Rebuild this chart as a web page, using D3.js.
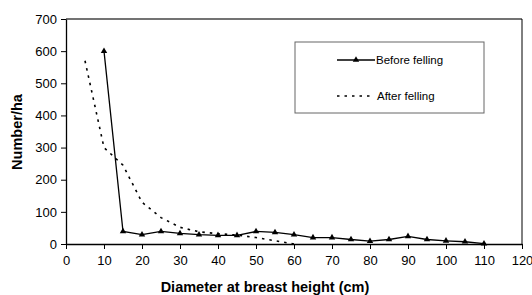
<!DOCTYPE html>
<html>
<head>
<meta charset="utf-8">
<script src="https://cdn.jsdelivr.net/npm/d3@7"></script>
<style>
  html, body { margin: 0; padding: 0; background: #fff; }
  svg { display: block; font-family: "Liberation Sans", Arial, sans-serif; }
</style>
</head>
<body>
<div id="chart"></div>
<script>
// Diameter classes (cm) and stems per hectare
const beforeDiam = [10, 15, 20, 25, 30, 35, 40, 45, 50, 55, 60, 65, 70, 75, 80, 85, 90, 95, 100, 105, 110];
const beforeVals = [600, 39, 29, 39, 33, 29, 27, 27, 39, 36, 29, 20, 20, 14, 9, 14, 24, 14, 10, 7, 1];

const afterDiam = [5, 10, 15, 20, 25, 30, 35, 40, 45, 50, 55, 60];
const afterVals = [570, 300, 245, 130, 82, 52, 38, 32, 28, 20, 10, 0];

const xTicks = [0, 10, 20, 30, 40, 50, 60, 70, 80, 90, 100, 110, 120];
const yTicks = [0, 100, 200, 300, 400, 500, 600, 700];

const W = 532, H = 295;
const m = { left: 66, right: 10, top: 19, bottom: 51 };

const svg = d3.select('#chart').append('svg')
  .attr('width', W).attr('height', H);

const x = d3.scaleLinear().domain([0, 120]).range([m.left, 522]);
const y = d3.scaleLinear().domain([0, 700]).range([244, m.top]);

// plot frame (top + right)
svg.append('line')
  .attr('x1', x(0)).attr('x2', x(120)).attr('y1', y(700)).attr('y2', y(700))
  .attr('stroke', '#444').attr('stroke-width', 1.5);
svg.append('line')
  .attr('x1', x(120)).attr('x2', x(120)).attr('y1', y(700)).attr('y2', y(0))
  .attr('stroke', '#000').attr('stroke-width', 1);

// axes
const xAxis = svg.append('g')
  .attr('transform', `translate(0,${y(0)})`)
  .call(d3.axisBottom(x).tickValues(xTicks).tickSize(5).tickPadding(7).tickSizeOuter(0));
const yAxis = svg.append('g')
  .attr('transform', `translate(${x(0)},0)`)
  .call(d3.axisLeft(y).tickValues(yTicks).tickSize(5).tickPadding(4).tickSizeOuter(0));

[xAxis, yAxis].forEach(a => {
  a.select('.domain').attr('stroke', '#000').attr('stroke-width', 1.3);
  a.selectAll('.tick line').attr('stroke', '#000');
  a.selectAll('.tick text')
    .attr('fill', '#000')
    .style('font-size', '13px')
    .style('font-family', '"Liberation Sans", Arial, sans-serif');
});

// after felling (dotted)
const line = d3.line().x(d => x(d[0])).y(d => y(d[1]));
svg.append('path')
  .datum(afterDiam.map((d, i) => [d, afterVals[i]]))
  .attr('d', line)
  .attr('fill', 'none')
  .attr('stroke', '#000')
  .attr('stroke-width', 1.6)
  .attr('stroke-dasharray', '2.5,5');

// before felling (solid with triangles)
const beforePts = beforeDiam.map((d, i) => [d, beforeVals[i]]);
svg.append('path')
  .datum(beforePts)
  .attr('d', line)
  .attr('fill', 'none')
  .attr('stroke', '#000')
  .attr('stroke-width', 1.3);

const tri = d3.symbol().type(d3.symbolTriangle).size(18);
svg.selectAll('.mk').data(beforePts).enter().append('path')
  .attr('class', 'mk')
  .attr('d', tri)
  .attr('transform', d => `translate(${x(d[0])},${y(d[1])})`)
  .attr('fill', '#000');

// legend
const lg = svg.append('g');
lg.append('rect')
  .attr('x', 295).attr('y', 42).attr('width', 189).attr('height', 71)
  .attr('fill', '#fff').attr('stroke', '#666').attr('stroke-width', 1);
lg.append('line')
  .attr('x1', 337).attr('x2', 375).attr('y1', 60).attr('y2', 60)
  .attr('stroke', '#000').attr('stroke-width', 1.3);
lg.append('path')
  .attr('d', tri)
  .attr('transform', 'translate(356,60)')
  .attr('fill', '#000');
lg.append('text')
  .attr('x', 376).attr('y', 64)
  .style('font-size', '11.5px')
  .text('Before felling');
lg.append('line')
  .attr('x1', 337).attr('x2', 372).attr('y1', 96).attr('y2', 96)
  .attr('stroke', '#000').attr('stroke-width', 1.6)
  .attr('stroke-dasharray', '2.5,5');
lg.append('text')
  .attr('x', 377).attr('y', 100)
  .style('font-size', '11.5px')
  .text('After felling');

// axis titles
svg.append('text')
  .attr('x', 265).attr('y', 292)
  .attr('text-anchor', 'middle')
  .style('font-size', '14.5px')
  .style('font-weight', 'bold')
  .text('Diameter at breast height (cm)');
svg.append('text')
  .attr('transform', 'translate(22,132) rotate(-90)')
  .attr('text-anchor', 'middle')
  .style('font-size', '14.5px')
  .style('font-weight', 'bold')
  .text('Number/ha');
</script>
</body>
</html>
